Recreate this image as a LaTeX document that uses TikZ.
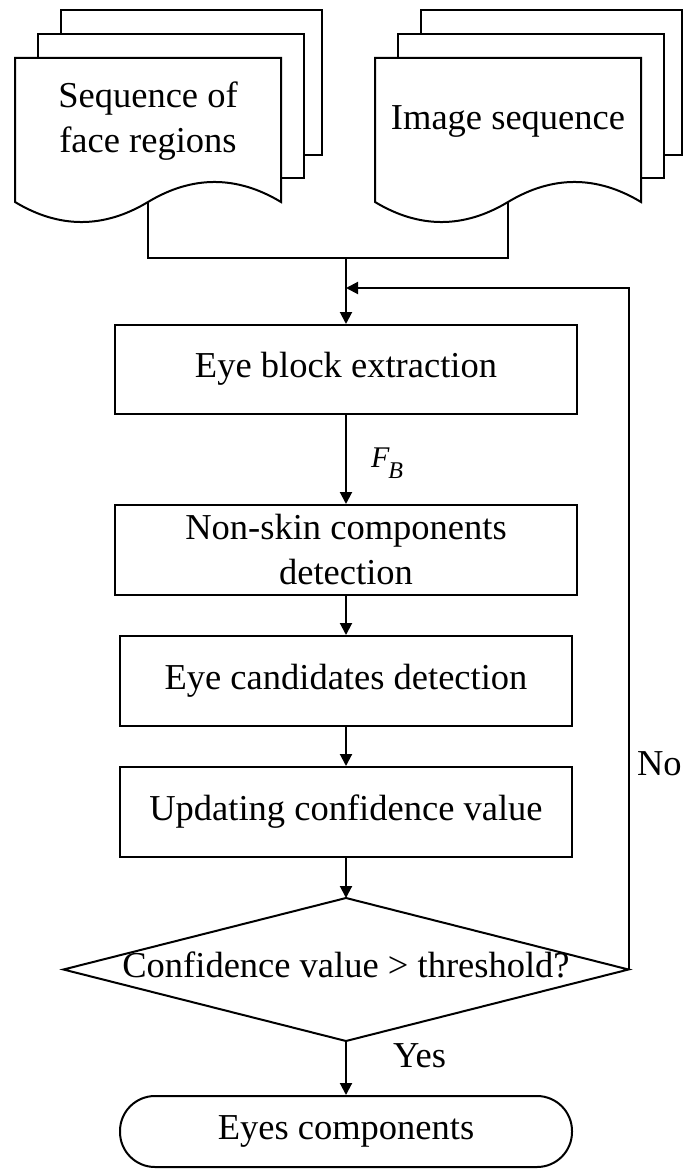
\documentclass[tikz,border=0pt]{standalone}
\usepackage{fontspec}
\setmainfont{Liberation Serif}
\usetikzlibrary{arrows.meta}
\begin{document}
\begin{tikzpicture}[x=1pt,y=-1pt,
  line width=2pt,
  every node/.style={font=\fontsize{36.5}{45}\selectfont, inner sep=0pt},
  page/.style={draw, fill=white, line join=miter},
  box/.style={draw, rectangle, minimum height=89pt, text height=24.6pt, text depth=7.8pt},
  onetext/.style={text height=24.6pt, text depth=7.8pt},
  arr/.style={-{Triangle[length=12pt,width=12pt]}},
  lbl/.style={anchor=base west}
]
\useasboundingbox (0,0) rectangle (683,1169);

% left document stack
\draw[page] (61,10) rectangle (322,155);
\draw[page] (38,34) rectangle (304,178);
\draw[page] (15,58) -- (281,58) -- (281,202)
  .. controls (236.7,175.3) and (192.3,175.3) .. (148,202)
  .. controls (103.7,228.7) and (59.3,228.7) .. (15,202) -- cycle;
\node[align=center] (doc1) at (148,121) {Sequence of\\face regions};
\coordinate (doc1b) at (148,202);

% right document stack
\draw[page] (421,10) rectangle (682,155);
\draw[page] (398,34) rectangle (664,178);
\draw[page] (375,58) -- (641,58) -- (641,202)
  .. controls (596.7,175.3) and (552.3,175.3) .. (508,202)
  .. controls (463.7,228.7) and (419.3,228.7) .. (375,202) -- cycle;
\node[onetext] (doc2) at (508,121.6) {Image sequence};
\coordinate (doc2b) at (508,202);

% process boxes
\node[box, minimum width=462pt] (eb) at (346,369.5) {Eye block extraction};
\node[draw, rectangle, minimum width=462pt, minimum height=90pt, align=center] (ns) at (346,550) {Non-skin components\\detection};
\node[box, minimum width=452pt, minimum height=90pt] (ec) at (346,681) {Eye candidates detection};
\node[box, minimum width=452pt, minimum height=90pt] (up) at (346,812) {Updating confidence value};

% decision
\node[rectangle, minimum width=563pt, minimum height=141pt, text height=24.6pt, text depth=7.8pt] (dec) at (346,969.5) {Confidence value > threshold?};
\draw[line join=miter] (dec.north) -- (dec.east) -- (dec.south) -- (dec.west) -- cycle;

% terminal
\node[draw, rectangle, rounded corners=35pt, minimum width=452pt, minimum height=71pt, text height=24.6pt, text depth=7.8pt] (term) at (346,1131.5) {Eyes components};

% connectors
\coordinate (join) at (346,258);
\coordinate (fb) at (346,288);
\draw (doc1b) |- (join) -| (doc2b);
\draw[arr] (join) -- (eb.north);
\draw[arr] (eb.south) -- (ns.north);
\draw[arr] (ns.south) -- (ec.north);
\draw[arr] (ec.south) -- (up.north);
\draw[arr] (up.south) -- (dec.north);
\draw[arr] (dec.south) -- (term.north);
\draw[arr] (dec.east) |- (fb);

% labels
\node[lbl] (fblabel) at (370,467) {\fontsize{30}{30}\selectfont\itshape F\kern-1pt\raisebox{-11pt}{\fontsize{24}{24}\selectfont B}};
\node[lbl] (no) at (636,775) {No};
\node[lbl] (yes) at (392,1067) {Yes};
\end{tikzpicture}
\end{document}
